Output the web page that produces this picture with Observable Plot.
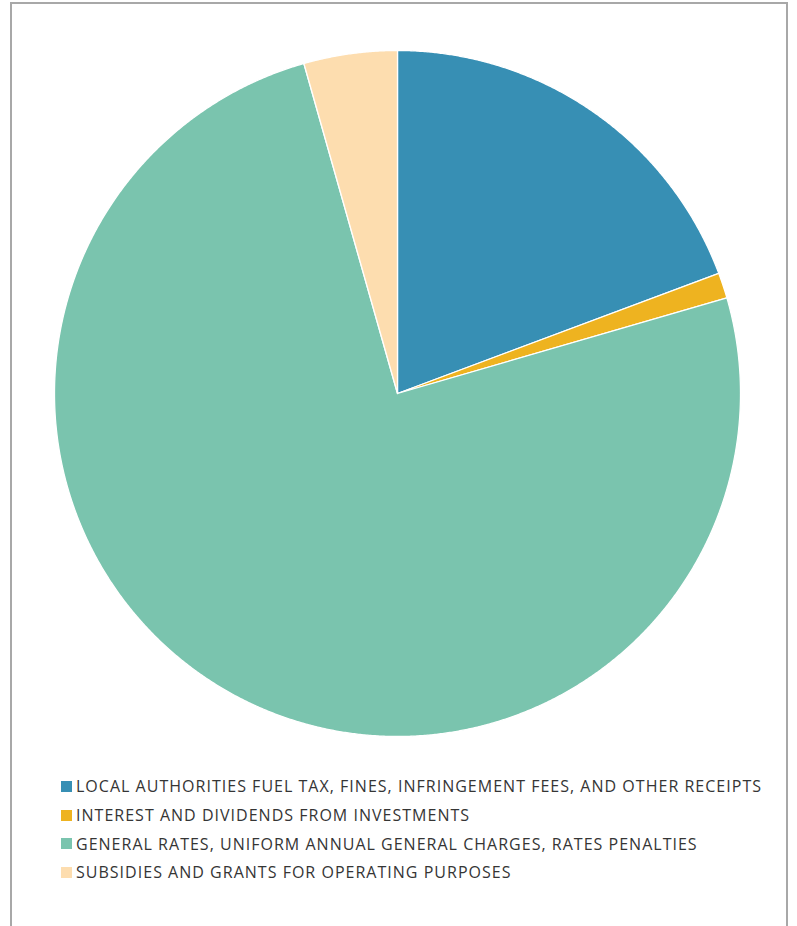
<!DOCTYPE html>
<html><head><meta charset="utf-8">
<script src="https://cdn.jsdelivr.net/npm/d3@7"></script>
<script src="https://cdn.jsdelivr.net/npm/@observablehq/plot@0.6"></script>
<style>
body{margin:0;background:#fff;width:797px;height:926px;overflow:hidden;position:relative;font-family:"Open Sans",sans-serif;}
#chart{position:absolute;left:0;top:0;}
#frame{position:absolute;left:10px;top:2px;width:778px;height:940px;border:2px solid #a8a8a8;border-bottom:none;pointer-events:none;box-sizing:border-box;}
#legend{position:absolute;left:61px;top:772px;}
.row{display:flex;align-items:center;height:28.7px;white-space:nowrap;}
.sw{width:11px;height:11px;margin-right:4px;flex:none;}
.lbl{font-size:16px;color:#353535;}
</style>
</head><body>
<div id="chart"></div>
<div id="legend"></div>
<div id="frame"></div>
<script>
const categories = [
  "LOCAL AUTHORITIES FUEL TAX, FINES, INFRINGEMENT FEES, AND OTHER RECEIPTS",
  "INTEREST AND DIVIDENDS FROM INVESTMENTS",
  "GENERAL RATES, UNIFORM ANNUAL GENERAL CHARGES, RATES PENALTIES",
  "SUBSIDIES AND GRANTS FOR OPERATING PURPOSES"
];
const values = [19.3, 1.2, 75.1, 4.4];
const colors = ["#378FB4", "#EEB320", "#7AC4AE", "#FDDDAF"];

const arcs = d3.pie().sort(null).value(d => d.value)(
  categories.map((c, i) => ({category: c, value: values[i]}))
);
const pts = [];
arcs.forEach(a => {
  const c = a.data.category;
  const n = Math.max(2, Math.ceil((a.endAngle - a.startAngle) / (Math.PI / 720)));
  pts.push({category: c, x: 0, y: 0});
  for (let k = 0; k <= n; k++) {
    const t = a.startAngle + (a.endAngle - a.startAngle) * k / n;
    pts.push({category: c, x: Math.sin(t), y: Math.cos(t)});
  }
  pts.push({category: c, x: 0, y: 0});
});

const chart = Plot.plot({
  width: 797, height: 770, margin: 0,
  x: {domain: [-1, 1], range: [54, 740], axis: null},
  y: {domain: [-1, 1], range: [736, 50], axis: null},
  color: {domain: categories, range: colors},
  marks: [
    Plot.line(pts, {x: "x", y: "y", z: "category", fill: "category", stroke: "white", strokeWidth: 1.3, strokeLinejoin: "round"})
  ]
});
document.getElementById("chart").appendChild(chart);

const leg = document.getElementById("legend");
categories.forEach((c, i) => {
  const row = document.createElement("div"); row.className = "row";
  const sw = document.createElement("div"); sw.className = "sw"; sw.style.background = colors[i];
  const lb = document.createElement("span"); lb.className = "lbl"; lb.textContent = c;
  row.appendChild(sw); row.appendChild(lb); leg.appendChild(row);
});
// match the reference line width of the longest label (~686px)
const first = leg.querySelector(".lbl");
const w = first.getBoundingClientRect().width;
const ls = (686 - w) / categories[0].length;
leg.querySelectorAll(".lbl").forEach(e => e.style.letterSpacing = ls + "px");
</script>
</body></html>
